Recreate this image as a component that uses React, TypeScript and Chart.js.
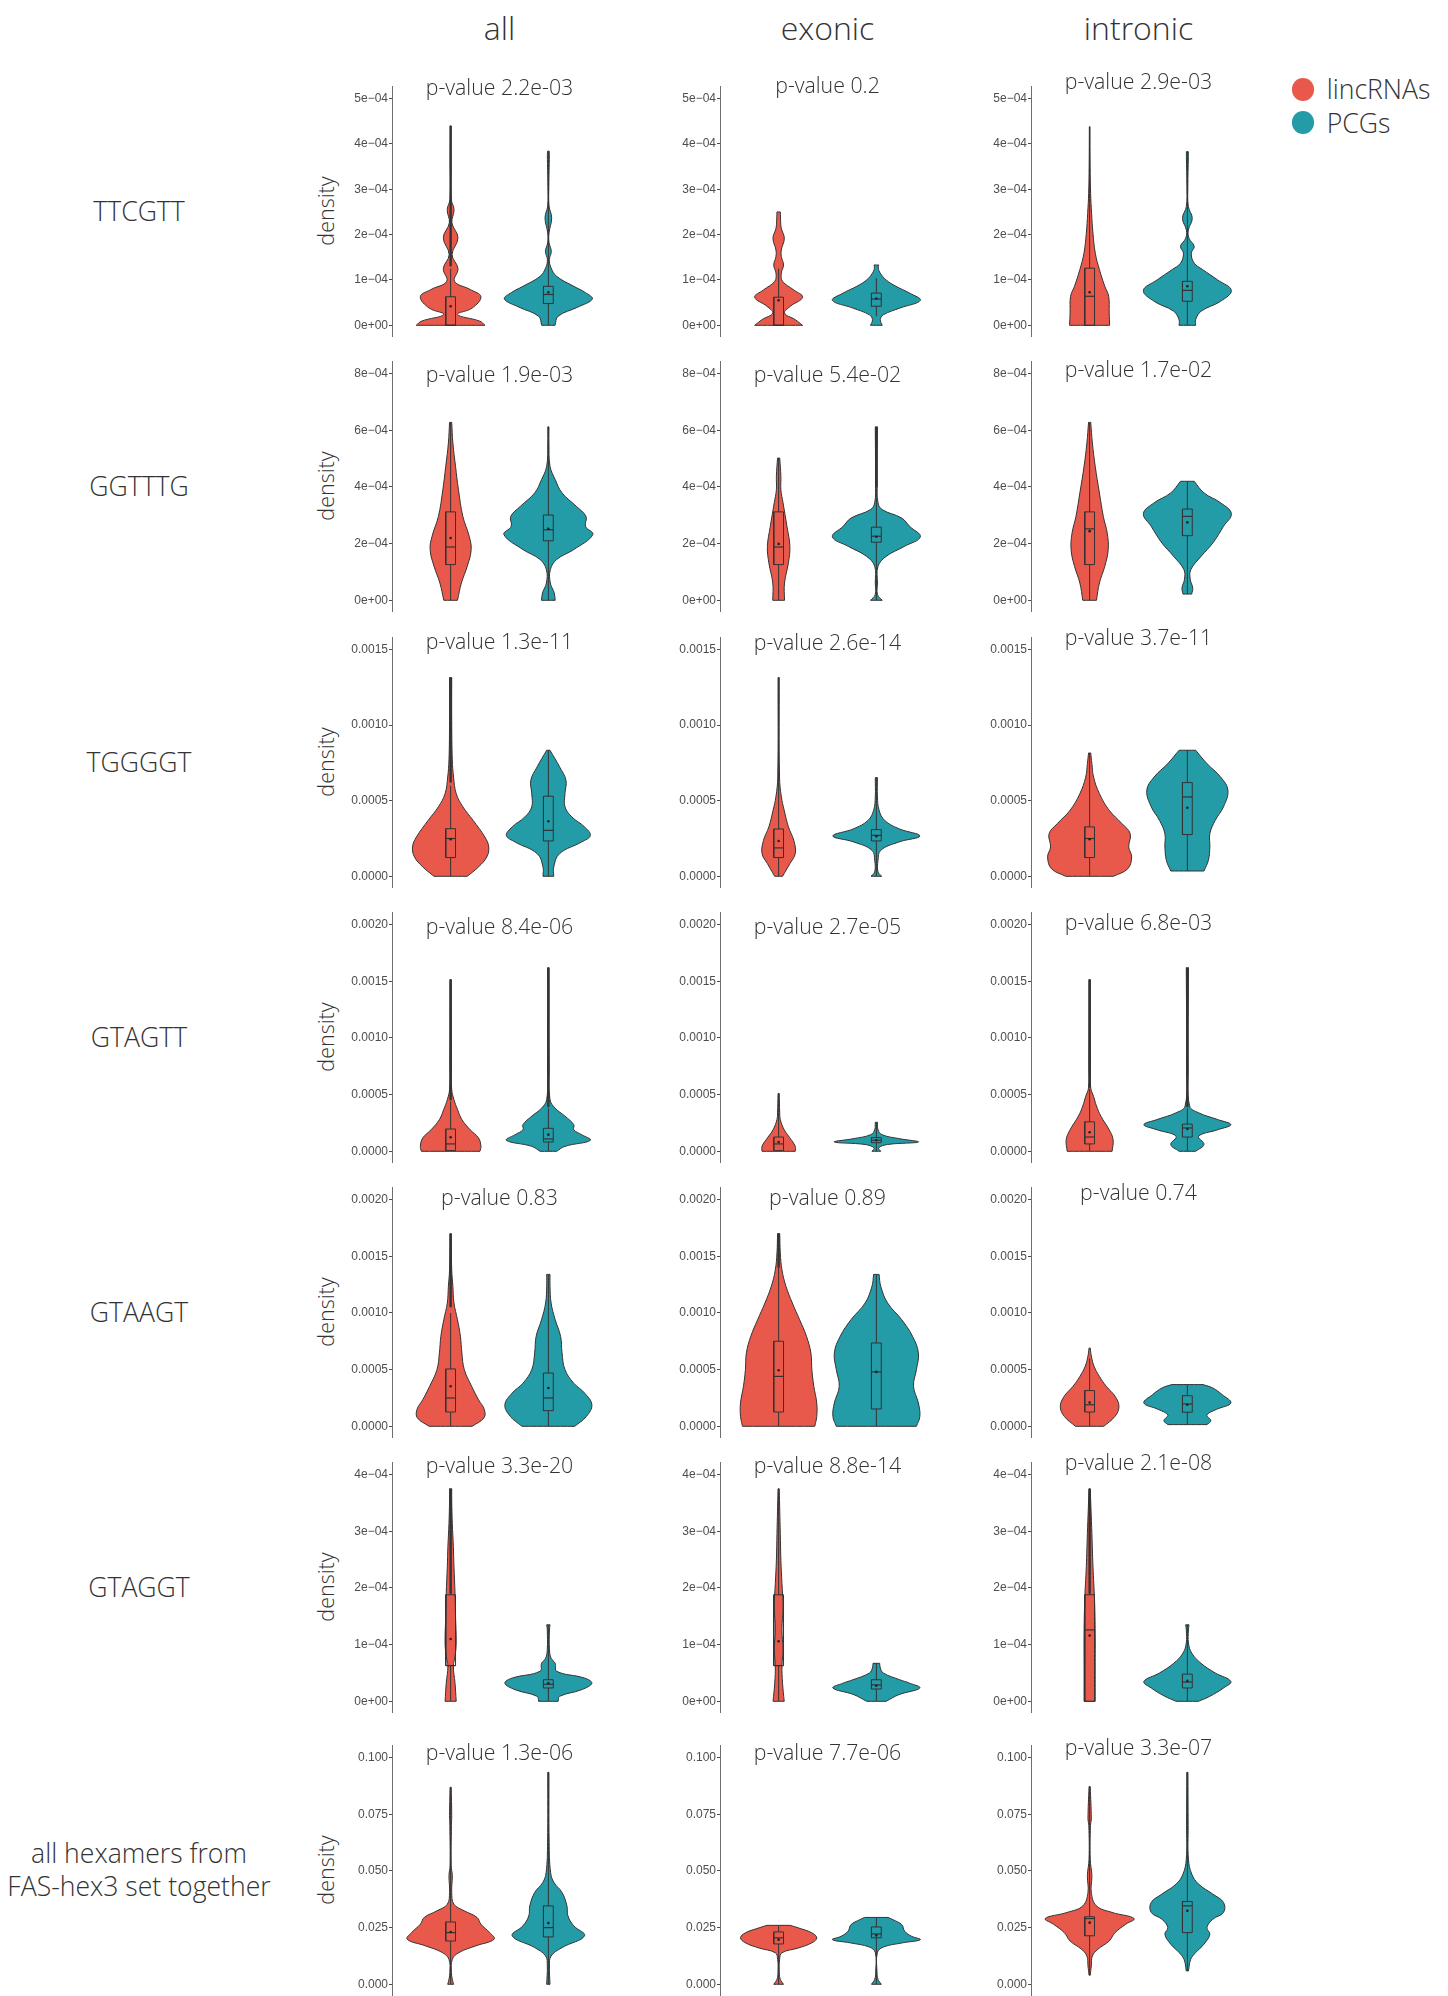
import React, { useEffect, useRef } from 'react';
import { Chart, registerables } from 'chart.js';

Chart.register(...registerables);

// ---------- labels ----------
const COLUMNS = ['all', 'exonic', 'intronic'];
const ROW_LABELS = [
  ['TTCGTT'],
  ['GGTTTG'],
  ['TGGGGT'],
  ['GTAGTT'],
  ['GTAAGT'],
  ['GTAGGT'],
  ['all hexamers from', 'FAS-hex3 set together'],
];
const GROUPS = ['lincRNAs', 'PCGs'];
const GROUP_COLORS = ['#E9594B', '#239CA8'];

const P_VALUES = [
  ['2.2e-03', '0.2', '2.9e-03'],
  ['1.9e-03', '5.4e-02', '1.7e-02'],
  ['1.3e-11', '2.6e-14', '3.7e-11'],
  ['8.4e-06', '2.7e-05', '6.8e-03'],
  ['0.83', '0.89', '0.74'],
  ['3.3e-20', '8.8e-14', '2.1e-08'],
  ['1.3e-06', '7.7e-06', '3.3e-07'],
];

// values of each row are written in these units
const UNITS = [1e-4, 1e-4, 1e-3, 1e-3, 1e-3, 1e-4, 1];

const TICK_VALUES = [
  [0, 1, 2, 3, 4, 5],
  [0, 2, 4, 6, 8],
  [0, 0.5, 1, 1.5],
  [0, 0.5, 1, 1.5, 2],
  [0, 0.5, 1, 1.5, 2],
  [0, 1, 2, 3, 4],
  [0, 0.025, 0.05, 0.075, 0.1],
];
const TICK_LABELS = [
  ['0e+00', '1e\u221204', '2e\u221204', '3e\u221204', '4e\u221204', '5e\u221204'],
  ['0e+00', '2e\u221204', '4e\u221204', '6e\u221204', '8e\u221204'],
  ['0.0000', '0.0005', '0.0010', '0.0015'],
  ['0.0000', '0.0005', '0.0010', '0.0015', '0.0020'],
  ['0.0000', '0.0005', '0.0010', '0.0015', '0.0020'],
  ['0e+00', '1e\u221204', '2e\u221204', '3e\u221204', '4e\u221204'],
  ['0.000', '0.025', '0.050', '0.075', '0.100'],
];

// ---------- violin profiles: [value, half width] per column, [lincRNAs, PCGs] ----------
const VIOLIN_TTCGTT = [
  [
    [[0, 0.352], [0.09, 0.3], [0.24, 0.07], [0.38, 0.22], [0.63, 0.31], [0.79, 0.2], [0.97, 0.04], [1.25, 0.075], [1.56, 0.015], [1.93, 0.075], [2.26, 0.013], [2.55, 0.035], [2.78, 0.006], [3.66, 0.004], [4.4, 0.003]],
    [[0, 0.068], [0.2, 0.1], [0.4, 0.3], [0.58, 0.45], [0.72, 0.38], [0.86, 0.26], [1.08, 0.085], [1.27, 0.027], [1.45, 0.01], [1.63, 0.03], [1.82, 0.007], [2.04, 0.007], [2.37, 0.034], [2.63, 0.007], [3.07, 0.005], [3.75, 0.01], [3.84, 0.008]],
  ],
  [
    [[0, 0.245], [0.125, 0.17], [0.27, 0.06], [0.42, 0.12], [0.62, 0.245], [0.78, 0.155], [0.97, 0.04], [1.15, 0.027], [1.33, 0.05], [1.52, 0.027], [1.66, 0.027], [1.92, 0.058], [2.14, 0.027], [2.32, 0.02], [2.5, 0.017]],
    [[0, 0.06], [0.125, 0.04], [0.23, 0.07], [0.38, 0.24], [0.55, 0.45], [0.71, 0.34], [0.86, 0.2], [1.0, 0.1], [1.15, 0.04], [1.26, 0.02], [1.33, 0.024]],
  ],
  [
    [[0, 0.205], [0.27, 0.2], [0.64, 0.195], [0.86, 0.155], [1.23, 0.1], [1.59, 0.058], [2.03, 0.034], [2.47, 0.02], [2.91, 0.01], [3.5, 0.005], [4.38, 0.003]],
    [[0, 0.085], [0.125, 0.085], [0.31, 0.14], [0.53, 0.34], [0.77, 0.45], [1.0, 0.31], [1.23, 0.155], [1.37, 0.07], [1.59, 0.04], [1.74, 0.07], [1.92, 0.017], [2.1, 0.01], [2.36, 0.05], [2.62, 0.01], [3.06, 0.005], [3.72, 0.01], [3.83, 0.01]],
  ],
];
const VIOLIN_GGTTTG = [
  [
    [[0, 0.07], [0.61, 0.11], [1.2, 0.17], [1.79, 0.21], [2.26, 0.19], [2.96, 0.125], [3.9, 0.08], [4.73, 0.05], [5.55, 0.023], [6.28, 0.011]],
    [[0, 0.07], [0.26, 0.06], [0.61, 0.02], [1.08, 0.02], [1.44, 0.085], [1.79, 0.26], [2.32, 0.455], [2.61, 0.38], [2.96, 0.385], [3.32, 0.285], [3.79, 0.14], [4.26, 0.07], [4.73, 0.017], [5.55, 0.006], [6.12, 0.006]],
  ],
  [
    [[0, 0.06], [0.61, 0.06], [1.32, 0.1], [1.9, 0.115], [2.61, 0.085], [3.44, 0.045], [3.9, 0.023], [4.38, 0.023], [5.02, 0.011]],
    [[0, 0.06], [0.2, 0.012], [0.61, 0.011], [1.2, 0.017], [1.55, 0.1], [1.9, 0.285], [2.24, 0.45], [2.61, 0.34], [2.9, 0.26], [3.2, 0.06], [3.44, 0.017], [4.14, 0.009], [6.12, 0.011]],
  ],
  [
    [[0, 0.07], [0.61, 0.1], [1.2, 0.155], [1.79, 0.19], [2.37, 0.18], [2.96, 0.14], [3.79, 0.1], [4.73, 0.057], [5.55, 0.028], [6.28, 0.011]],
    [[0.22, 0.045], [0.44, 0.055], [0.73, 0.03], [1.08, 0.035], [1.55, 0.14], [2.02, 0.26], [2.61, 0.37], [3.06, 0.45], [3.44, 0.34], [3.79, 0.17], [4.2, 0.07]],
  ],
];
const VIOLIN_TGGGGT = [
  [
    [[0, 0.17], [0.062, 0.285], [0.128, 0.37], [0.194, 0.39], [0.26, 0.35], [0.37, 0.23], [0.46, 0.125], [0.547, 0.057], [0.657, 0.03], [0.77, 0.017], [1.03, 0.011], [1.315, 0.011]],
    [[0, 0.055], [0.062, 0.055], [0.15, 0.115], [0.227, 0.34], [0.27, 0.43], [0.327, 0.37], [0.393, 0.24], [0.46, 0.17], [0.547, 0.17], [0.635, 0.18], [0.724, 0.115], [0.834, 0.017]],
  ],
  [
    [[0, 0.04], [0.084, 0.115], [0.15, 0.17], [0.238, 0.155], [0.327, 0.1], [0.437, 0.057], [0.525, 0.028], [0.657, 0.009], [1.315, 0.006]],
    [[0, 0.055], [0.029, 0.017], [0.106, 0.017], [0.172, 0.045], [0.227, 0.23], [0.267, 0.445], [0.315, 0.23], [0.37, 0.085], [0.437, 0.028], [0.525, 0.011], [0.653, 0.011]],
  ],
  [
    [[0, 0.245], [0.05, 0.39], [0.128, 0.43], [0.194, 0.4], [0.282, 0.415], [0.349, 0.33], [0.437, 0.2], [0.547, 0.1], [0.657, 0.04], [0.746, 0.023], [0.816, 0.011]],
    [[0.035, 0.17], [0.106, 0.215], [0.194, 0.23], [0.282, 0.23], [0.37, 0.285], [0.46, 0.37], [0.57, 0.415], [0.657, 0.34], [0.746, 0.2], [0.834, 0.085]],
  ],
];
const VIOLIN_GTAGTT = [
  [
    [[0, 0.3], [0.044, 0.31], [0.118, 0.285], [0.19, 0.2], [0.28, 0.115], [0.37, 0.07], [0.456, 0.034], [0.544, 0.011], [0.75, 0.008], [1.515, 0.006]],
    [[0, 0.085], [0.044, 0.17], [0.097, 0.43], [0.147, 0.34], [0.19, 0.26], [0.235, 0.26], [0.31, 0.17], [0.38, 0.07], [0.456, 0.017], [0.75, 0.008], [1.62, 0.006]],
  ],
  [
    [[0, 0.17], [0.044, 0.17], [0.118, 0.115], [0.19, 0.057], [0.28, 0.017], [0.34, 0.011], [0.51, 0.006]],
    [[0, 0.045], [0.03, 0.023], [0.06, 0.115], [0.082, 0.43], [0.112, 0.23], [0.147, 0.057], [0.19, 0.017], [0.256, 0.011]],
  ],
  [
    [[0, 0.23], [0.103, 0.24], [0.19, 0.2], [0.31, 0.115], [0.4, 0.07], [0.485, 0.04], [0.56, 0.011], [0.75, 0.008], [1.515, 0.006]],
    [[0, 0.085], [0.06, 0.17], [0.132, 0.115], [0.19, 0.31], [0.235, 0.445], [0.28, 0.31], [0.34, 0.115], [0.4, 0.023], [0.75, 0.008], [1.62, 0.011]],
  ],
];
const VIOLIN_GTAAGT = [
  [
    [[0, 0.22], [0.074, 0.34], [0.147, 0.345], [0.235, 0.285], [0.353, 0.215], [0.5, 0.14], [0.647, 0.115], [0.794, 0.1], [0.94, 0.07], [1.088, 0.034], [1.235, 0.023], [1.38, 0.011], [1.7, 0.006]],
    [[0, 0.27], [0.088, 0.39], [0.19, 0.445], [0.294, 0.37], [0.38, 0.26], [0.5, 0.17], [0.647, 0.14], [0.794, 0.125], [0.94, 0.07], [1.088, 0.028], [1.235, 0.017], [1.34, 0.017]],
  ],
  [
    [[0, 0.37], [0.088, 0.39], [0.206, 0.39], [0.353, 0.36], [0.5, 0.34], [0.647, 0.33], [0.794, 0.285], [0.94, 0.215], [1.088, 0.14], [1.235, 0.075], [1.38, 0.034], [1.53, 0.017], [1.7, 0.011]],
    [[0, 0.41], [0.088, 0.445], [0.206, 0.43], [0.353, 0.38], [0.5, 0.41], [0.647, 0.43], [0.794, 0.37], [0.94, 0.26], [1.088, 0.115], [1.235, 0.045], [1.34, 0.028]],
  ],
  [
    [[0, 0.145], [0.088, 0.26], [0.176, 0.3], [0.265, 0.26], [0.353, 0.17], [0.44, 0.1], [0.53, 0.045], [0.62, 0.017], [0.69, 0.006]],
    [[0.015, 0.2], [0.05, 0.24], [0.1, 0.2], [0.15, 0.3], [0.206, 0.445], [0.28, 0.355], [0.338, 0.26], [0.368, 0.16]],
  ],
];
const VIOLIN_GTAGGT = [
  [
    [[0, 0.057], [0.32, 0.045], [0.62, 0.028], [0.79, 0.045], [1.03, 0.057], [1.5, 0.05], [1.9, 0.045], [2.38, 0.034], [2.73, 0.028], [3.14, 0.017], [3.55, 0.011], [3.75, 0.011]],
    [[0, 0.1], [0.088, 0.115], [0.205, 0.34], [0.32, 0.445], [0.41, 0.37], [0.53, 0.085], [0.67, 0.07], [0.76, 0.028], [0.91, 0.011], [1.26, 0.011], [1.35, 0.017]],
  ],
  [
    [[0, 0.057], [0.32, 0.04], [0.62, 0.034], [0.91, 0.045], [1.26, 0.034], [1.67, 0.045], [2.08, 0.034], [2.49, 0.023], [2.96, 0.017], [3.75, 0.006]],
    [[0, 0.1], [0.117, 0.23], [0.235, 0.445], [0.32, 0.34], [0.38, 0.24], [0.5, 0.07], [0.59, 0.04], [0.67, 0.034]],
  ],
  [
    [[0, 0.057], [0.62, 0.057], [1.2, 0.057], [1.79, 0.05], [2.38, 0.034], [2.96, 0.023], [3.75, 0.006]],
    [[0, 0.115], [0.088, 0.23], [0.235, 0.37], [0.35, 0.445], [0.5, 0.285], [0.67, 0.14], [0.85, 0.045], [1.03, 0.011], [1.26, 0.011], [1.35, 0.017]],
  ],
];
const VIOLIN_ALL_HEX = [
  [
    [[0, 0.03], [0.0022, 0.017], [0.0052, 0.008], [0.011, 0.017], [0.014, 0.085], [0.017, 0.26], [0.0199, 0.445], [0.0228, 0.4], [0.0265, 0.31], [0.0295, 0.27], [0.0324, 0.14], [0.0353, 0.034], [0.0405, 0.011], [0.0479, 0.017], [0.0523, 0.006], [0.07, 0.008], [0.0744, 0.011], [0.0869, 0.006]],
    [[0, 0.017], [0.0081, 0.011], [0.0125, 0.028], [0.0162, 0.14], [0.0214, 0.37], [0.0258, 0.26], [0.0302, 0.2], [0.0346, 0.19], [0.0405, 0.14], [0.0449, 0.057], [0.0493, 0.023], [0.0626, 0.008], [0.0935, 0.006]],
  ],
  [
    [[0, 0.05], [0.0022, 0.017], [0.0051, 0.007], [0.011, 0.01], [0.0139, 0.034], [0.016, 0.2], [0.0183, 0.34], [0.0205, 0.39], [0.0227, 0.34], [0.0249, 0.2], [0.026, 0.12]],
    [[0, 0.05], [0.0022, 0.017], [0.0051, 0.007], [0.0139, 0.01], [0.0164, 0.07], [0.0183, 0.27], [0.0197, 0.45], [0.0212, 0.36], [0.0234, 0.29], [0.0263, 0.26], [0.0285, 0.17], [0.0295, 0.12]],
  ],
  [
    [[0.004, 0.006], [0.0081, 0.017], [0.0125, 0.028], [0.0155, 0.085], [0.0191, 0.2], [0.0228, 0.26], [0.0265, 0.37], [0.029, 0.455], [0.0317, 0.23], [0.0346, 0.07], [0.0405, 0.017], [0.0479, 0.023], [0.0552, 0.006], [0.07, 0.008], [0.0729, 0.017], [0.0872, 0.006]],
    [[0.0059, 0.011], [0.011, 0.034], [0.014, 0.085], [0.0177, 0.17], [0.0221, 0.23], [0.025, 0.2], [0.0287, 0.26], [0.0317, 0.37], [0.0361, 0.37], [0.0398, 0.26], [0.0442, 0.115], [0.0486, 0.045], [0.0552, 0.011], [0.07, 0.008], [0.0935, 0.006]],
  ],
];

// ---------- box statistics: [whisker low, q1, median, q3, whisker high, mean] ----------
const BOX_TTCGTT = [
  [[0, 0, 0, 0.63, 1.25, 0.42], [0, 0.48, 0.68, 0.86, 3.84, 0.73]],
  [[0, 0, 0, 0.62, 1.25, 0.55], [0.2, 0.42, 0.58, 0.71, 1.04, 0.59]],
  [[0, 0, 0.64, 1.26, 4.38, 0.73], [0, 0.53, 0.77, 0.97, 3.83, 0.86]],
];
const BOX_GGTTTG = [
  [[0, 1.26, 1.88, 3.12, 6.28, 2.2], [0, 2.1, 2.49, 3.01, 6.12, 2.52]],
  [[0, 1.26, 1.88, 3.12, 5.02, 1.99], [0, 2.05, 2.26, 2.58, 4.0, 2.24]],
  [[0, 1.26, 2.52, 3.12, 6.28, 2.44], [0.22, 2.28, 2.96, 3.22, 4.2, 2.75]],
];
const BOX_TGGGGT = [
  [[0, 0.124, 0.25, 0.315, 0.6, 0.245], [0, 0.234, 0.304, 0.53, 0.834, 0.364]],
  [[0, 0.124, 0.188, 0.313, 1.315, 0.234], [0, 0.234, 0.271, 0.309, 0.653, 0.265]],
  [[0, 0.124, 0.25, 0.327, 0.816, 0.245], [0.035, 0.276, 0.525, 0.62, 0.834, 0.454]],
];
const BOX_GTAGTT = [
  [[0, 0.006, 0.065, 0.197, 0.44, 0.124], [0, 0.082, 0.109, 0.203, 0.38, 0.147]],
  [[0, 0.006, 0.065, 0.126, 0.51, 0.082], [0, 0.076, 0.097, 0.12, 0.256, 0.097]],
  [[0, 0.065, 0.126, 0.26, 0.55, 0.168], [0, 0.126, 0.206, 0.24, 0.38, 0.197]],
];
const BOX_GTAAGT = [
  [[0, 0.126, 0.25, 0.506, 1.0, 0.353], [0, 0.138, 0.25, 0.47, 1.34, 0.338]],
  [[0, 0.126, 0.44, 0.75, 1.7, 0.494], [0, 0.153, 0.48, 0.735, 1.34, 0.48]],
  [[0, 0.126, 0.19, 0.315, 0.6, 0.21], [0.015, 0.124, 0.197, 0.27, 0.368, 0.19]],
];
const BOX_GTAGGT = [
  [[0, 0.63, 0.63, 1.88, 3.75, 1.1], [0, 0.235, 0.3, 0.38, 1.35, 0.32]],
  [[0, 0.63, 0.63, 1.88, 3.75, 1.06], [0, 0.217, 0.29, 0.38, 0.67, 0.275]],
  [[0, 0, 1.26, 1.88, 3.75, 1.16], [0, 0.235, 0.34, 0.48, 1.35, 0.36]],
];
const BOX_ALL_HEX = [
  [[0, 0.0191, 0.0228, 0.0275, 0.0869, 0.0231], [0, 0.0209, 0.025, 0.0346, 0.0935, 0.027]],
  [[0, 0.0178, 0.0205, 0.0231, 0.026, 0.0197], [0, 0.0205, 0.0222, 0.0253, 0.0295, 0.0215]],
  [[0.004, 0.0214, 0.029, 0.0298, 0.0872, 0.0272], [0.0059, 0.0228, 0.0346, 0.0365, 0.0935, 0.0324]],
];

// ---------- dense outlier runs drawn as heavy segments: [from, to] ----------
const OUTLIERS_TTCGTT = [[[[1.3, 4.4]], []], [[], []], [[], []]];
const OUTLIERS_GGTTTG = [[[], []], [[], [[4.0, 6.12]]], [[], []]];
const OUTLIERS_TGGGGT = [[[[0.62, 1.315]], []], [[], []], [[], []]];
const OUTLIERS_GTAGTT = [[[[0.45, 1.515]], [[0.39, 1.62]]], [[], []], [[[0.56, 1.515]], [[0.39, 1.62]]]];
const OUTLIERS_GTAAGT = [[[[1.05, 1.7]], []], [[[1.4, 1.7]], []], [[], []]];
const OUTLIERS_GTAGGT = [[[[1.9, 3.75]], []], [[], []], [[[1.9, 3.75]], []]];
const OUTLIERS_ALL_HEX = [[[], []], [[], []], [[], []]];

const ROW_VIOLINS = [VIOLIN_TTCGTT, VIOLIN_GGTTTG, VIOLIN_TGGGGT, VIOLIN_GTAGTT, VIOLIN_GTAAGT, VIOLIN_GTAGGT, VIOLIN_ALL_HEX];
const ROW_BOXES = [BOX_TTCGTT, BOX_GGTTTG, BOX_TGGGGT, BOX_GTAGTT, BOX_GTAAGT, BOX_GTAGGT, BOX_ALL_HEX];
const ROW_OUTLIERS = [OUTLIERS_TTCGTT, OUTLIERS_GGTTTG, OUTLIERS_TGGGGT, OUTLIERS_GTAGTT, OUTLIERS_GTAAGT, OUTLIERS_GTAGGT, OUTLIERS_ALL_HEX];

// ---------- layout ----------
const PAGE_W = 1448;
const PAGE_H = 1996;
const COL_AXIS_X = [392, 720, 1031];
const ROW_TOP = [86, 361, 637, 912, 1187, 1462, 1745];
const PANEL_W = 215;
const PANEL_H = 250;
const AXIS_W = 60;
const PAD_TOP = 32;
const PAD_BOTTOM = 8;
const PAD_RIGHT = 12;
const TOP_TICK_INSET = 12.6;
const ZERO_INSET = 10.7;
const TITLE_DY = [
  [2.6, 1.3, -2.7],
  [14.6, 14.6, 10.3],
  [6, 6.6, 1.6],
  [16, 16, 11.6],
  [12, 12, 7],
  [5, 5, 1.6],
  [9, 9, 4],
];
const BOX_HALF = 0.05;
const OUTLINE = '#333333';
const TEXT = '#333333';
const LIGHT_FONT = '"Open Sans", "Noto Sans", sans-serif';

type Pt = { x: number; y: number };

function violinOutline(profile: number[][], center: number, unit: number): Pt[] {
  const right = profile.map(([v, w]) => ({ x: center + w, y: v * unit }));
  const left = profile.map(([v, w]) => ({ x: center - w, y: v * unit })).reverse();
  // corners are doubled so the spline keeps the trimmed ends flat
  return [right[0], ...right, right[right.length - 1], left[0], ...left, left[left.length - 1], right[0]];
}

function segment(a: Pt, b: Pt, width: number, order: number) {
  return {
    data: [a, b],
    showLine: true,
    fill: false,
    borderColor: OUTLINE,
    borderWidth: width,
    pointRadius: 0,
    tension: 0,
    order,
  };
}

function buildDatasets(row: number, col: number) {
  const unit = UNITS[row];
  const out: any[] = [];
  for (let g = 0; g < GROUPS.length; g++) {
    const c = g + 1;
    const profile = ROW_VIOLINS[row][col][g];
    out.push({
      label: GROUPS[g],
      data: violinOutline(profile, c, unit),
      showLine: true,
      fill: 'shape',
      backgroundColor: GROUP_COLORS[g],
      borderColor: OUTLINE,
      borderWidth: 1,
      borderJoinStyle: 'round',
      tension: 0.4,
      pointRadius: 0,
      order: 3,
    });
    const [lo, q1, med, q3, hi, mean] = ROW_BOXES[row][col][g].map((v) => v * unit);
    if (q1 > lo) out.push(segment({ x: c, y: lo }, { x: c, y: q1 }, 1, 2));
    if (hi > q3) out.push(segment({ x: c, y: q3 }, { x: c, y: hi }, 1, 2));
    for (const [a, b] of ROW_OUTLIERS[row][col][g]) {
      out.push(segment({ x: c, y: a * unit }, { x: c, y: b * unit }, 2.4, 2));
    }
    out.push({
      data: [
        { x: c - BOX_HALF, y: q1 },
        { x: c + BOX_HALF, y: q1 },
        { x: c + BOX_HALF, y: q3 },
        { x: c - BOX_HALF, y: q3 },
        { x: c - BOX_HALF, y: q1 },
      ],
      showLine: true,
      fill: false,
      borderColor: OUTLINE,
      borderWidth: 1,
      pointRadius: 0,
      tension: 0,
      order: 1,
    });
    out.push(segment({ x: c - BOX_HALF, y: med }, { x: c + BOX_HALF, y: med }, 1.2, 1));
    out.push({
      data: [{ x: c, y: mean }],
      showLine: false,
      pointRadius: 1.3,
      pointBorderWidth: 0,
      pointBackgroundColor: '#222222',
      order: 0,
    });
  }
  return out;
}

function Panel({ row, col }: { row: number; col: number }) {
  const ref = useRef<HTMLCanvasElement | null>(null);
  const width = AXIS_W + PANEL_W + PAD_RIGHT;
  const height = PAD_TOP + PANEL_H + PAD_BOTTOM;

  useEffect(() => {
    if (!ref.current) return;
    const unit = UNITS[row];
    const ticks = TICK_VALUES[row].map((v) => v * unit);
    const labels = TICK_LABELS[row];
    const top = ticks[ticks.length - 1];
    const span = PANEL_H - TOP_TICK_INSET - ZERO_INSET;
    const yMin = (-top * ZERO_INSET) / span;
    const yMax = top + (top * TOP_TICK_INSET) / span;
    const pText = 'p-value ' + P_VALUES[row][col];
    const titleDy = TITLE_DY[row][col];

    const pValuePlugin = {
      id: 'pValueTitle',
      afterDraw(chart: any) {
        const ctx = chart.ctx;
        ctx.save();
        ctx.font = '300 21.3px ' + LIGHT_FONT;
        ctx.fillStyle = TEXT;
        ctx.textAlign = 'center';
        ctx.textBaseline = 'middle';
        ctx.fillText(pText, chart.scales.x.getPixelForValue(1.5), chart.chartArea.top + titleDy);
        ctx.restore();
      },
    };

    const chart = new Chart(ref.current, {
      type: 'scatter',
      data: { datasets: buildDatasets(row, col) },
      options: {
        responsive: false,
        animation: false,
        events: [],
        layout: { padding: { top: PAD_TOP, bottom: PAD_BOTTOM, left: 0, right: PAD_RIGHT } },
        plugins: {
          legend: { display: false },
          tooltip: { enabled: false },
          title: { display: false },
        },
        scales: {
          x: { type: 'linear', min: 0.4, max: 2.6, display: false },
          y: {
            type: 'linear',
            min: yMin,
            max: yMax,
            afterBuildTicks: (scale: any) => {
              scale.ticks = ticks.map((v) => ({ value: v }));
            },
            afterFit: (scale: any) => {
              scale.width = AXIS_W;
              scale.paddingTop = 0;
              scale.paddingBottom = 0;
            },
            ticks: {
              autoSkip: false,
              includeBounds: false,
              padding: 1,
              color: '#4d4d4d',
              font: { family: '"Liberation Sans", Arial, sans-serif', size: 12 },
              callback: (_v: any, i: number) => labels[i],
            },
            grid: {
              display: true,
              drawOnChartArea: false,
              drawTicks: true,
              tickLength: 3,
              color: '#4d4d4d',
              lineWidth: 1,
            },
            border: { display: true, color: '#6e6e6e', width: 1 },
          },
        },
      } as any,
      plugins: [pValuePlugin],
    });
    return () => chart.destroy();
  }, [row, col]);

  return (
    <canvas
      ref={ref}
      width={width}
      height={height}
      style={{
        position: 'absolute',
        left: COL_AXIS_X[col] - AXIS_W,
        top: ROW_TOP[row] - PAD_TOP,
        width,
        height,
      }}
    />
  );
}

export default function App() {
  useEffect(() => {
    document.body.style.margin = '0';
    document.body.style.background = '#ffffff';
  }, []);

  const textBase: React.CSSProperties = {
    position: 'absolute',
    fontFamily: LIGHT_FONT,
    fontWeight: 300,
    color: TEXT,
    whiteSpace: 'nowrap',
  };

  return (
    <div style={{ position: 'absolute', left: 0, top: 0, width: PAGE_W, height: PAGE_H, background: '#ffffff', overflow: 'hidden' }}>
      {COLUMNS.map((name, c) => (
        <div
          key={'col' + c}
          style={{
            ...textBase,
            fontSize: 32,
            left: COL_AXIS_X[c] + PANEL_W / 2,
            top: 27,
            transform: 'translate(-50%, -50%)',
          }}
        >
          {name}
        </div>
      ))}

      {ROW_LABELS.map((lines, r) => (
        <div
          key={'row' + r}
          style={{
            ...textBase,
            fontSize: 26.6,
            lineHeight: '33px',
            textAlign: 'center',
            left: 139,
            top: ROW_TOP[r] + PANEL_H / 2,
            transform: 'translate(-50%, -50%)',
          }}
        >
          {lines.map((l, i) => (
            <div key={i}>{l}</div>
          ))}
        </div>
      ))}

      {ROW_LABELS.map((_, r) => (
        <div
          key={'dens' + r}
          style={{
            ...textBase,
            fontSize: 21.5,
            left: 324.5,
            top: ROW_TOP[r] + PANEL_H / 2,
            transform: 'translate(-50%, -50%) rotate(-90deg)',
          }}
        >
          density
        </div>
      ))}

      {ROW_LABELS.map((_, r) =>
        COLUMNS.map((__, c) => <Panel key={'p' + r + '-' + c} row={r} col={c} />)
      )}

      {GROUPS.map((g, i) => (
        <div key={'leg' + i}>
          <div
            style={{
              position: 'absolute',
              left: 1303 - 11.3,
              top: 89.3 + i * 33.4 - 11.3,
              width: 22.6,
              height: 22.6,
              borderRadius: '50%',
              background: GROUP_COLORS[i],
            }}
          />
          <div
            style={{
              ...textBase,
              fontSize: 26.6,
              left: 1326.7,
              top: 89.3 + i * 33.4,
              transform: 'translateY(-50%)',
            }}
          >
            {g}
          </div>
        </div>
      ))}
    </div>
  );
}
